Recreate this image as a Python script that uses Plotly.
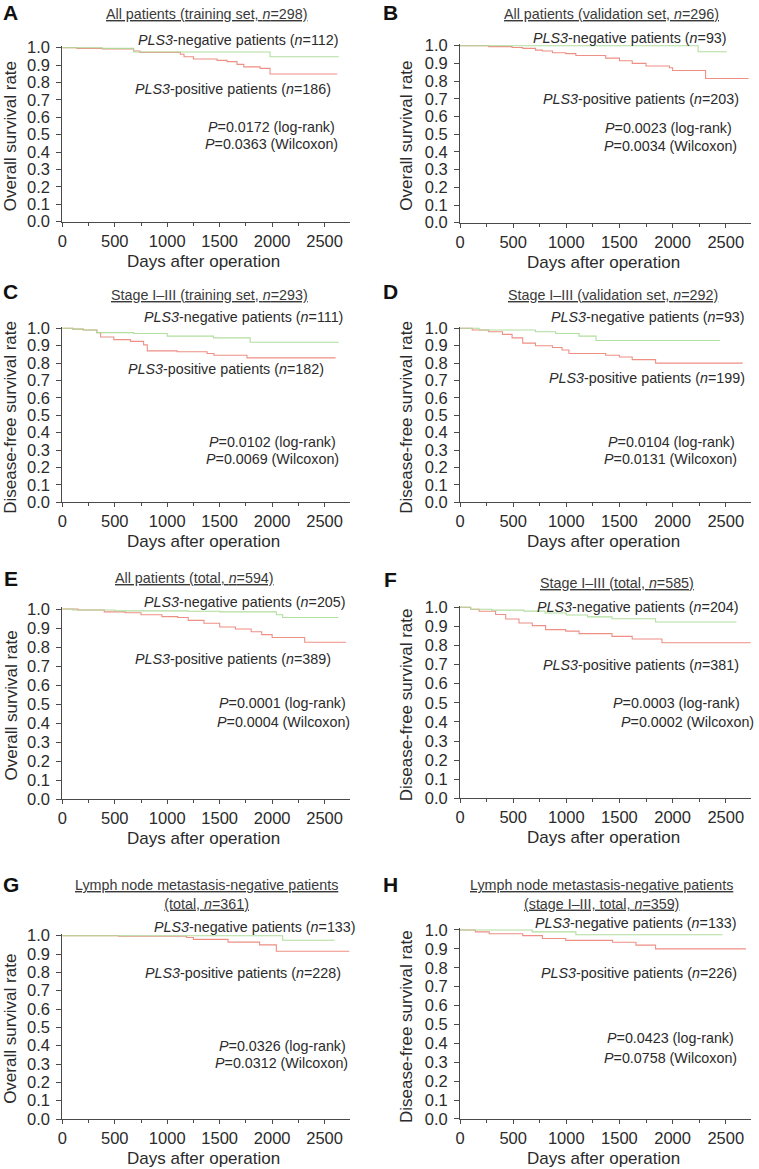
import plotly.graph_objects as go

# ---------------- data ----------------
panel_ids = ["A", "B", "C", "D", "E", "F", "G", "H"]

titles = [
    "All patients (training set, <i>n</i>=298)",
    "All patients (validation set, <i>n</i>=296)",
    "Stage I–III (training set, <i>n</i>=293)",
    "Stage I–III (validation set, <i>n</i>=292)",
    "All patients (total, <i>n</i>=594)",
    "Stage I–III (total, <i>n</i>=585)",
    "Lymph node metastasis-negative patients|(total, <i>n</i>=361)",
    "Lymph node metastasis-negative patients|(stage I–III, total, <i>n</i>=359)",
]
y_titles = ["Overall survival rate", "Overall survival rate",
            "Disease-free survival rate", "Disease-free survival rate",
            "Overall survival rate", "Disease-free survival rate",
            "Overall survival rate", "Disease-free survival rate"]
x_title = "Days after operation"

n_negative = [112, 93, 111, 93, 205, 204, 133, 133]
n_positive = [186, 203, 182, 199, 389, 381, 228, 226]
p_logrank = ["0.0172", "0.0023", "0.0102", "0.0104", "0.0001", "0.0003", "0.0326", "0.0423"]
p_wilcoxon = ["0.0363", "0.0034", "0.0069", "0.0131", "0.0004", "0.0002", "0.0312", "0.0758"]

x_ticks = [0, 500, 1000, 1500, 2000, 2500]
y_ticks = [0.0, 0.1, 0.2, 0.3, 0.4, 0.5, 0.6, 0.7, 0.8, 0.9, 1.0]

A_neg_days = [0, 380, 680, 1980, 2635]
A_neg_surv = [1.0, 0.996, 0.975, 0.948, 0.948]
A_pos_days = [0, 140, 380, 680, 740, 1125, 1160, 1250, 1475, 1570, 1665, 1730, 1885, 1980, 2620]
A_pos_surv = [1.0, 0.996, 0.993, 0.981, 0.973, 0.962, 0.948, 0.935, 0.927, 0.92, 0.904, 0.89, 0.881, 0.849, 0.849]

B_neg_days = [0, 2240, 2510]
B_neg_surv = [1.0, 0.966, 0.966]
B_pos_days = [0, 270, 490, 590, 710, 775, 870, 995, 1090, 1370, 1500, 1620, 1750, 1970, 2000, 2310, 2715]
B_pos_surv = [1.0, 0.995, 0.99, 0.985, 0.975, 0.97, 0.96, 0.955, 0.945, 0.93, 0.915, 0.9, 0.885, 0.875, 0.86, 0.815, 0.815]

C_neg_days = [0, 100, 200, 330, 680, 1000, 1440, 1790, 2635]
C_neg_surv = [1.0, 0.995, 0.99, 0.975, 0.97, 0.955, 0.945, 0.92, 0.92]
C_pos_days = [0, 100, 200, 330, 365, 490, 650, 775, 810, 1095, 1380, 1445, 1760, 2605]
C_pos_surv = [1.0, 0.995, 0.99, 0.975, 0.95, 0.935, 0.925, 0.905, 0.87, 0.865, 0.855, 0.845, 0.83, 0.83]

D_neg_days = [0, 180, 710, 900, 1120, 1280, 2445]
D_neg_surv = [1.0, 0.99, 0.98, 0.97, 0.955, 0.93, 0.93]
D_pos_days = [0, 115, 270, 400, 490, 590, 710, 870, 960, 1025, 1370, 1500, 1620, 1840, 2660]
D_pos_surv = [1.0, 0.99, 0.98, 0.965, 0.945, 0.915, 0.9, 0.89, 0.875, 0.855, 0.845, 0.835, 0.82, 0.8, 0.8]

E_neg_days = [0, 100, 500, 1200, 1500, 2040, 2100, 2630]
E_neg_surv = [1.0, 0.995, 0.99, 0.988, 0.985, 0.97, 0.955, 0.955]
E_pos_days = [0, 150, 400, 600, 750, 950, 1100, 1200, 1350, 1500, 1650, 1800, 1900, 2000, 2310, 2705]
E_pos_surv = [1.0, 0.995, 0.985, 0.98, 0.97, 0.96, 0.955, 0.94, 0.925, 0.905, 0.895, 0.88, 0.865, 0.85, 0.825, 0.825]

F_neg_days = [0, 100, 300, 600, 800, 1000, 1200, 1430, 1840, 2600]
F_neg_surv = [1.0, 0.99, 0.985, 0.98, 0.97, 0.96, 0.95, 0.94, 0.923, 0.923]
F_pos_days = [0, 100, 180, 335, 430, 555, 680, 805, 995, 1120, 1430, 1620, 1900, 2735]
F_pos_surv = [1.0, 0.99, 0.979, 0.962, 0.939, 0.918, 0.904, 0.883, 0.875, 0.862, 0.848, 0.834, 0.814, 0.814]

G_neg_days = [0, 2100, 2595]
G_neg_surv = [1.0, 0.975, 0.975]
G_pos_days = [0, 535, 1185, 1250, 1580, 1880, 2040, 2735]
G_pos_surv = [1.0, 0.997, 0.99, 0.98, 0.965, 0.95, 0.915, 0.915]

H_neg_days = [0, 680, 1090, 2470]
H_neg_surv = [1.0, 0.99, 0.975, 0.975]
H_pos_days = [0, 145, 275, 590, 775, 995, 1435, 1655, 1840, 2690]
H_pos_surv = [1.0, 0.99, 0.98, 0.97, 0.955, 0.945, 0.935, 0.92, 0.9, 0.9]

neg_days = [A_neg_days, B_neg_days, C_neg_days, D_neg_days, E_neg_days, F_neg_days, G_neg_days, H_neg_days]
neg_surv = [A_neg_surv, B_neg_surv, C_neg_surv, D_neg_surv, E_neg_surv, F_neg_surv, G_neg_surv, H_neg_surv]
pos_days = [A_pos_days, B_pos_days, C_pos_days, D_pos_days, E_pos_days, F_pos_days, G_pos_days, H_pos_days]
pos_surv = [A_pos_surv, B_pos_surv, C_pos_surv, D_pos_surv, E_pos_surv, F_pos_surv, G_pos_surv, H_pos_surv]

# ---------------- layout geometry (pixels) ----------------
W, H = 759, 1169
FONT = "Liberation Sans, Arial, Helvetica, sans-serif"
TXT = "#2b2b2b"
AXC = "#4a4a4a"
GREEN = "#a9dc96"
RED = "#ee9085"
XMAX = 2740
YTOP = 1.008

cols = [(62.3, 0.10493), (460.0, 0.1063)]   # (x pixel of day 0, px per day)
ytitle_x = [10.5, 406.5]
# (pixel of y=1.0, pixel of y=0.0)
rows_px = [(47.7, 221.7), (45.7, 222.7), (328.3, 502.3), (328.3, 502.3),
           (609.0, 799.0), (607.3, 798.3), (935.7, 1119.0), (930.0, 1119.0)]
# (x centre, y, yanchor)
letter_pos = [(10.5, 0, "top"), (390.5, 0, "top"), (10.5, 291.5, "middle"), (390.5, 291.5, "middle"),
              (10.5, 578.5, "middle"), (390.5, 580, "middle"), (10.5, 884, "middle"), (390.5, 884, "middle")]
title_pos = [(206, 14), (611, 14), (209, 295), (613, 295), (194, 578.3), (617, 583.3), (206, 894), (601.5, 894)]
neg_pos = [(340, 40), (729, 38.3), (345, 317.3), (747, 316.7), (348, 601.7), (740.7, 606.7), (358, 926.7), (739, 923.3)]
pos_pos = [(333, 89), (740.7, 99), (326, 369.3), (747, 378.3), (333, 659.3), (740.7, 665), (343, 973.3), (739, 973.3)]
lr_pos = [(337, 127), (734, 127.7), (338.3, 441.7), (737, 441.7), (348, 702.7), (742.3, 702.7), (348, 1045.7), (735.7, 1038.3)]
wx_pos = [(340, 144), (739, 146), (340.7, 459.3), (739, 459.3), (351.7, 721.7), (756, 721.7), (350, 1063.3), (739, 1058.3)]


def fx(x):
    return x / W


def fy(y):
    return 1 - y / H


fig = go.Figure()
annotations = []
layout = {}

for i, pid in enumerate(panel_ids):
    k = i + 1
    xs = "" if k == 1 else str(k)
    x0px, ppd = cols[i % 2]
    y1px, y0px = rows_px[i]
    ytop_px = y0px - YTOP * (y0px - y1px)

    fig.add_trace(go.Scatter(x=pos_days[i], y=pos_surv[i], mode="lines", line_shape="hv",
                             line=dict(color=RED, width=1.1), xaxis="x" + xs, yaxis="y" + xs,
                             showlegend=False, hoverinfo="skip"))
    fig.add_trace(go.Scatter(x=neg_days[i], y=neg_surv[i], mode="lines", line_shape="hv",
                             line=dict(color=GREEN, width=1.1), opacity=0.9,
                             xaxis="x" + xs, yaxis="y" + xs,
                             showlegend=False, hoverinfo="skip"))

    layout["xaxis" + xs] = dict(
        domain=[fx(x0px), fx(x0px + XMAX * ppd)], range=[0, XMAX], anchor="y" + xs,
        showline=True, linecolor=AXC, linewidth=1, showgrid=False, zeroline=False,
        ticks="outside", ticklen=4, tickcolor=AXC, tickvals=x_ticks,
        minor=dict(dtick=250, tick0=0, ticks="outside", ticklen=3, tickcolor=AXC),
        tickfont=dict(family=FONT, size=16.5, color=TXT),
        automargin=False, fixedrange=True,
    )
    layout["yaxis" + xs] = dict(
        domain=[fy(y0px), fy(ytop_px)], range=[0, YTOP], anchor="x" + xs,
        showline=True, linecolor=AXC, linewidth=1, showgrid=False, zeroline=False,
        ticks="outside", ticklen=5, tickcolor=AXC, tickvals=y_ticks, tickformat=".1f",
        tickfont=dict(family=FONT, size=16.5, color=TXT), ticklabelstandoff=3,
        automargin=False, fixedrange=True,
    )

    # axis titles
    annotations.append(dict(text=x_title, x=fx(x0px + 1350 * ppd), y=fy(y0px + 39.3),
                            xref="paper", yref="paper", xanchor="center", yanchor="middle",
                            showarrow=False, font=dict(family=FONT, size=17, color=TXT)))
    annotations.append(dict(text=y_titles[i], x=fx(ytitle_x[i % 2]), y=fy((y0px + y1px) / 2 + 2),
                            xref="paper", yref="paper", xanchor="center", yanchor="middle",
                            textangle=-90, showarrow=False, font=dict(family=FONT, size=17, color=TXT)))
    # panel letter
    lx, ly, lya = letter_pos[i]
    annotations.append(dict(text="<b>%s</b>" % pid, x=fx(lx), y=fy(ly), xref="paper", yref="paper",
                            xanchor="center", yanchor=lya, showarrow=False, borderpad=0,
                            font=dict(family=FONT, size=21, color="#111111")))
    # title (underlined, possibly two lines)
    tx, ty = title_pos[i]
    ttext = "<br>".join("<u>%s</u>" % part for part in titles[i].split("|"))
    annotations.append(dict(text=ttext, x=fx(tx), y=fy(ty), xref="paper", yref="paper",
                            xanchor="center", yanchor="middle", showarrow=False,
                            font=dict(family=FONT, size=14.3, color="#3a3a3a")))
    labels = [
        (neg_pos[i], "<i>PLS3</i>-negative patients (<i>n</i>=%d)" % n_negative[i]),
        (pos_pos[i], "<i>PLS3</i>-positive patients (<i>n</i>=%d)" % n_positive[i]),
        (lr_pos[i], "<i>P</i>=%s (log-rank)" % p_logrank[i]),
        (wx_pos[i], "<i>P</i>=%s (Wilcoxon)" % p_wilcoxon[i]),
    ]
    for (ax_, ay_), txt in labels:
        annotations.append(dict(text=txt, x=fx(ax_), y=fy(ay_), xref="paper", yref="paper",
                                xanchor="right", yanchor="middle", showarrow=False,
                                font=dict(family=FONT, size=14.3, color=TXT)))

fig.update_layout(
    width=W, height=H, margin=dict(l=0, r=0, t=0, b=0, autoexpand=False),
    paper_bgcolor="white", plot_bgcolor="white",
    annotations=annotations, showlegend=False,
    **layout,
)

fig.write_html("out.html", config={"displayModeBar": False},
               post_script="document.body.style.margin='0';document.body.style.overflow='hidden';")
